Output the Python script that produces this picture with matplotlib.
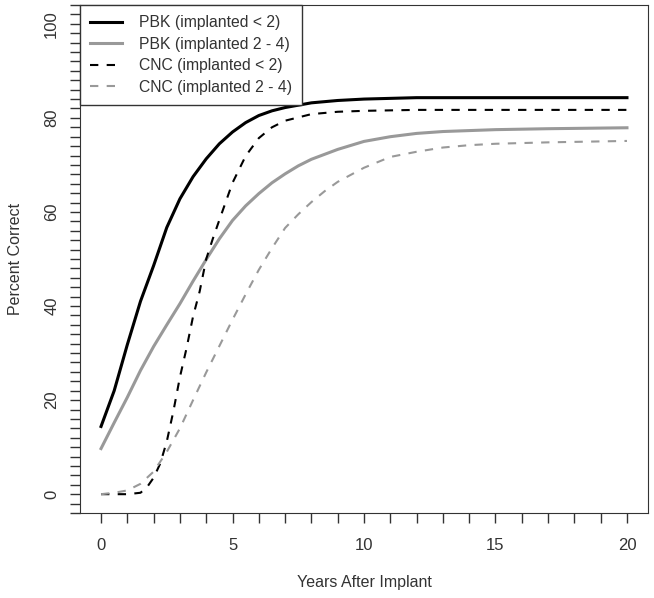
import numpy as np
import matplotlib
matplotlib.use('Agg')
import matplotlib.pyplot as plt
from matplotlib.ticker import MultipleLocator

# values
pbk_lt2_x = [0, 0.5, 1, 1.5, 2, 2.5, 3, 3.5, 4, 4.5, 5, 5.5, 6, 6.5, 7, 8, 9, 10, 12, 15, 20]
pbk_lt2_y = [14.4, 22, 31.8, 41, 48.6, 56.7, 62.8, 67.5, 71.3, 74.5, 77, 79, 80.5, 81.5, 82.2, 83.2, 83.7, 84, 84.3, 84.3, 84.3]

pbk_24_x = [0, 0.5, 1, 1.5, 2, 2.5, 3, 3.5, 4, 4.5, 5, 5.5, 6, 6.5, 7, 7.5, 8, 9, 10, 11, 12, 13, 15, 17, 20]
pbk_24_y = [9.7, 15.2, 20.6, 26.3, 31.4, 36, 40.5, 45.3, 49.9, 54.3, 58.2, 61.3, 63.9, 66.2, 68.1, 69.8, 71.2, 73.3, 75, 76, 76.7, 77.1, 77.5, 77.7, 77.9]

cnc_lt2_x = [0, 0.5, 1, 1.5, 1.75, 2, 2.25, 2.5, 2.75, 3, 3.25, 3.5, 3.75, 4, 4.25, 4.5, 5, 5.5, 6, 6.5, 7, 8, 9, 10, 12, 20]
cnc_lt2_y = [0, 0, 0, 0.3, 1.5, 3.5, 6.5, 11.2, 17.6, 24.9, 31, 37.8, 43.1, 50, 54.3, 58.3, 66.2, 71.9, 75.7, 78, 79.4, 80.8, 81.3, 81.5, 81.7, 81.7]

cnc_24_x = [0, 0.5, 1, 1.5, 2, 2.5, 3, 3.5, 4, 4.5, 5, 5.5, 6, 6.5, 7, 7.5, 8, 8.5, 9, 10, 11, 12, 13, 14, 15, 17, 20]
cnc_24_y = [0, 0.3, 0.8, 2.2, 4.8, 9, 14, 20, 25.9, 31.5, 37.1, 42.5, 47.7, 52.3, 56.6, 59.5, 62.1, 64.4, 66.4, 69.4, 71.7, 72.8, 73.7, 74.2, 74.5, 74.8, 75.1]

labels = ['PBK (implanted < 2)', 'PBK (implanted 2 - 4)', 'CNC (implanted < 2)', 'CNC (implanted 2 - 4)']


def main():
    plt.rcParams['font.family'] = ['Liberation Sans', 'DejaVu Sans']
    fig = plt.figure(figsize=(6.54, 5.98), dpi=100)
    ax = fig.add_axes([80 / 654, 85 / 598, 568 / 654, 508 / 598])

    grey = '#999999'
    ax.plot(pbk_lt2_x, pbk_lt2_y, color='black', lw=2.2, label=labels[0])
    ax.plot(pbk_24_x, pbk_24_y, color=grey, lw=2.2, label=labels[1])
    ax.plot(cnc_lt2_x, cnc_lt2_y, color='black', lw=1.5, dashes=(4, 4), label=labels[2])
    ax.plot(cnc_24_x, cnc_24_y, color=grey, lw=1.5, dashes=(4, 4), label=labels[3])

    ax.set_xlim(-0.8, 20.8)
    ax.set_ylim(-4, 104)
    ax.xaxis.set_major_locator(MultipleLocator(5))
    ax.xaxis.set_minor_locator(MultipleLocator(1))
    ax.yaxis.set_major_locator(MultipleLocator(20))
    ax.yaxis.set_minor_locator(MultipleLocator(2))
    ax.tick_params(which='both', direction='out', length=7, width=1, colors='#333333', labelcolor='#333333', labelsize=12)
    ax.tick_params(axis='x', pad=11)
    ax.tick_params(axis='y', pad=8)
    for lbl in ax.get_yticklabels():
        lbl.set_rotation(90)
        lbl.set_va('center')
    for sp in ax.spines.values():
        sp.set_color('#333333')

    ax.set_xlabel('Years After Implant', fontsize=11.5, color='#333333', labelpad=16)
    ax.set_ylabel('Percent Correct', fontsize=11.5, color='#333333', labelpad=15)

    leg = ax.legend(loc='upper left', bbox_to_anchor=(0, 1), borderaxespad=0, fancybox=False,
                    framealpha=1, edgecolor='#333333', fontsize=11.3, handlelength=2.0,
                    handletextpad=1.1, labelspacing=0.42, borderpad=0.65)
    leg.get_frame().set_linewidth(1)
    for t in leg.get_texts():
        t.set_color('#333333')

    fig.savefig('out.png', dpi=100)


if __name__ == '__main__':
    main()
